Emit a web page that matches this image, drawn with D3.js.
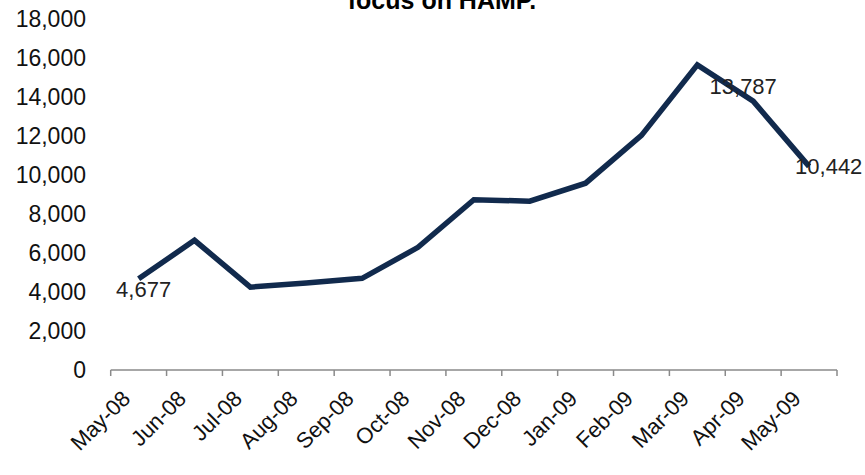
<!DOCTYPE html>
<html>
<head>
<meta charset="utf-8">
<script src="https://cdn.jsdelivr.net/npm/d3@7"></script>
<style>
  html, body { margin: 0; padding: 0; background: #ffffff; }
  svg { display: block; }
  text { font-family: "Liberation Sans", Arial, Helvetica, sans-serif; }
</style>
</head>
<body>
<script>
// ---- data ----
const months = ["May-08","Jun-08","Jul-08","Aug-08","Sep-08","Oct-08","Nov-08","Dec-08","Jan-09","Feb-09","Mar-09","Apr-09","May-09"];
const values = [4677, 6650, 4250, 4460, 4700, 6290, 8730, 8660, 9580, 12030, 15650, 13787, 10442];
const yTicks = [0, 2000, 4000, 6000, 8000, 10000, 12000, 14000, 16000, 18000];
const labeledPoints = [0, 11, 12];
const titleText = "focus on HAMP.";

// ---- layout ----
const W = 865, H = 475;
const svg = d3.select("body").append("svg").attr("width", W).attr("height", H);

const x = d3.scaleBand().domain(months).range([110.7, 837]).padding(0);
const y = d3.scaleLinear().domain([0, 18000]).range([370, 19]);
const fmt = d3.format(",");

// title (partially cut off at top, as in the source)
svg.append("text")
  .attr("x", 442).attr("y", 9)
  .attr("text-anchor", "middle")
  .attr("font-size", 25).attr("font-weight", "bold")
  .attr("fill", "#000")
  .text(titleText);

// y tick labels (no axis line)
svg.append("g").selectAll("text")
  .data(yTicks).join("text")
  .attr("x", 86)
  .attr("y", d => y(d))
  .attr("dy", "0.35em")
  .attr("text-anchor", "end")
  .attr("font-size", 23)
  .attr("fill", "#111")
  .text(d => fmt(d));

// x axis line with tick marks at band boundaries
const xAxisG = svg.append("g");
xAxisG.append("line")
  .attr("x1", x.range()[0]).attr("x2", x.range()[1])
  .attr("y1", y(0)).attr("y2", y(0))
  .attr("stroke", "#8a8a8a").attr("stroke-width", 1.5);
const boundaries = months.map(m => x(m)).concat([x(months[months.length - 1]) + x.bandwidth()]);
xAxisG.selectAll("line.tick")
  .data(boundaries).join("line")
  .attr("class", "tick")
  .attr("x1", d => d).attr("x2", d => d)
  .attr("y1", y(0)).attr("y2", y(0) + 6)
  .attr("stroke", "#8a8a8a").attr("stroke-width", 1.5);

// x labels rotated -45
svg.append("g").selectAll("text")
  .data(months).join("text")
  .attr("text-anchor", "end")
  .attr("font-size", 22)
  .attr("fill", "#111")
  .attr("transform", d => `translate(${x(d) + x.bandwidth() / 2 - 7},${400}) rotate(-45)`)
  .text(d => d);

// line
const line = d3.line()
  .x((d, i) => x(months[i]) + x.bandwidth() / 2)
  .y(d => y(d));
svg.append("path")
  .datum(values)
  .attr("d", line)
  .attr("fill", "none")
  .attr("stroke", "#112a4d")
  .attr("stroke-width", 5.5)
  .attr("stroke-linejoin", "miter");

// data labels
const px = i => x(months[i]) + x.bandwidth() / 2;
const labelPos = {
  0:  { dx: 5,   dy: 18, anchor: "middle" },
  11: { dx: -10, dy: -7, anchor: "middle" },
  12: { dx: -14, dy: 8,  anchor: "start" }
};
svg.append("g").selectAll("text")
  .data(labeledPoints).join("text")
  .attr("x", i => px(i) + labelPos[i].dx)
  .attr("y", i => y(values[i]) + labelPos[i].dy)
  .attr("text-anchor", i => labelPos[i].anchor)
  .attr("font-size", 22)
  .attr("fill", "#222")
  .text(i => fmt(values[i]));
</script>
</body>
</html>
